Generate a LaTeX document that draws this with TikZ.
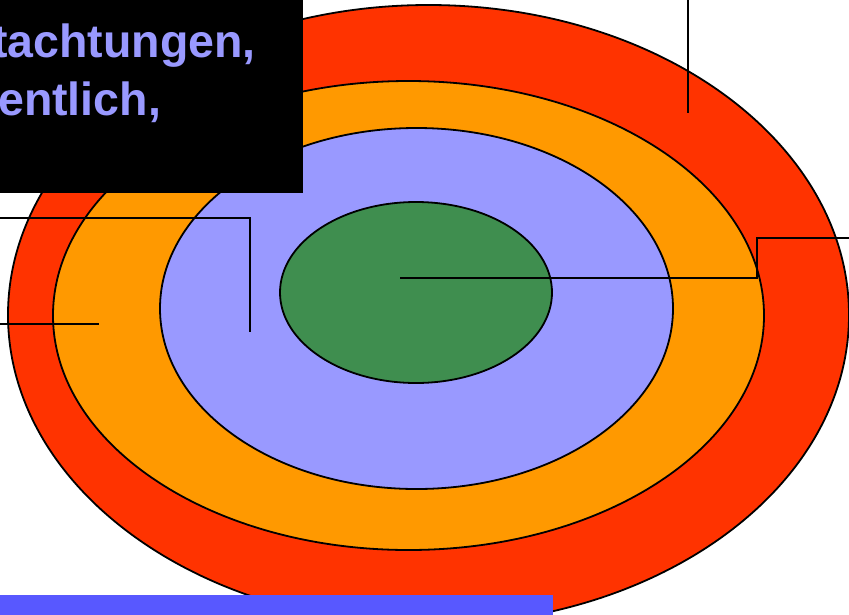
\documentclass[tikz,border=0pt]{standalone}
\usepackage{fontspec}
\setmainfont{Liberation Sans}
\usepackage{tikz}
\usetikzlibrary{shapes.geometric, positioning}
\definecolor{ringred}{RGB}{255,51,0}
\definecolor{ringorange}{RGB}{255,153,0}
\definecolor{ringlilac}{RGB}{153,153,255}
\definecolor{ringgreen}{RGB}{63,142,79}
\definecolor{barblue}{RGB}{88,88,255}
\tikzset{
    ring/.style={ellipse, draw=black, fill=#1, line width=1.8pt, inner sep=0pt},
    leader/.style={draw=black, line width=2pt},
    notebox/.style={rectangle, fill=black, inner sep=0pt, minimum width=303pt, minimum height=193pt},
    notetext/.style={font=\fontsize{46.5}{56}\selectfont\bfseries, text=ringlilac, inner sep=0pt, anchor=base west}
}

\begin{document}
\begin{tikzpicture}[x=1pt, y=-1pt]

\clip (0,0) rectangle (849,614);

% rings, outside in
\node[ring=ringred, minimum width=841pt, minimum height=620pt] (outer) at (428.5,315) {};
\node[ring=ringorange, minimum width=711pt, minimum height=469pt] (middle) at (408.5,315.5) {};
\node[ring=ringlilac, minimum width=513pt, minimum height=361pt] (inner) at (416.5,308.5) {};
\node[ring=ringgreen, minimum width=272pt, minimum height=181pt] (core) at (416,292.5) {};

% leader lines
\coordinate (topend) at (688,-2);
\coordinate (topfoot) at (688,113);
\draw[leader] (topend) -- (topfoot);

\coordinate (corefoot) at (400,278);
\coordinate (rightbend) at (757,278);
\coordinate (rightend) at (851,238);
\draw[leader] (corefoot) -- (rightbend) |- (rightend);

\coordinate (leftend) at (-2,217.5);
\coordinate (lilacfoot) at (249.5,331.5);
\draw[leader] (leftend) -| (lilacfoot);

\coordinate (lowend) at (-2,323.5);
\coordinate (orangefoot) at (99,323.5);
\draw[leader] (lowend) -- (orangefoot);

% note box and bar
\node[notebox] (note) at (151.5,96.5) {};
\node[notetext] (line1) at (-8,57) {tachtungen,};
\node[notetext] (line2) at (-2,115) {entlich,};

\node[rectangle, fill=barblue, inner sep=0pt, minimum width=553pt, minimum height=30pt] (bar) at (276.5,610) {};

\end{tikzpicture}
\end{document}
